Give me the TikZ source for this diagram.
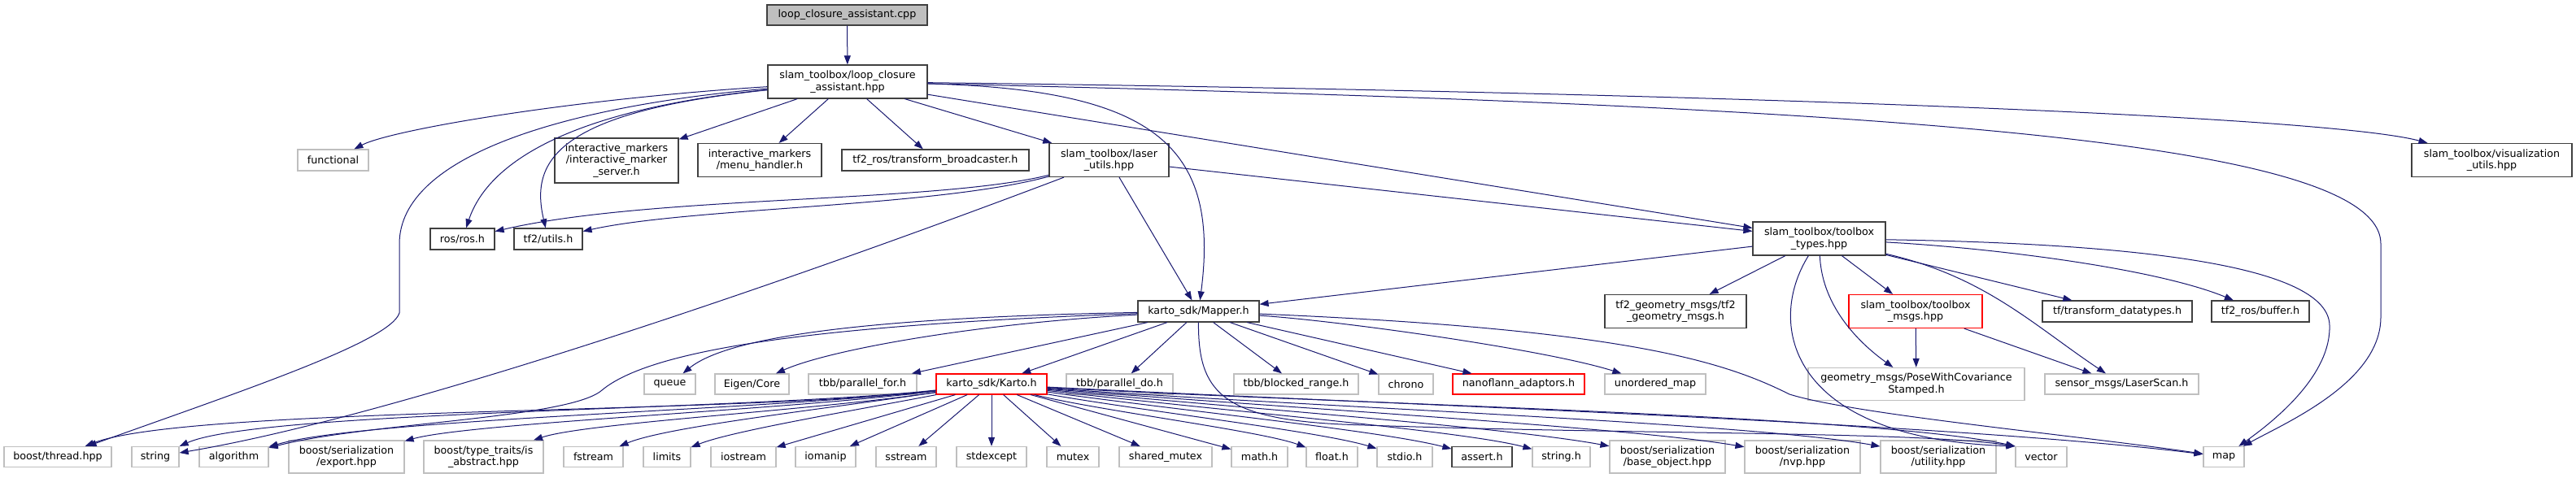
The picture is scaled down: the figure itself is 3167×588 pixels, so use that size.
\documentclass[tikz,border=0pt]{standalone}
\usepackage{fontspec}
\setmainfont{DejaVu Sans}
\usepackage{tikz}
\usetikzlibrary{arrows.meta}
\definecolor{edgeblue}{HTML}{191970}
\definecolor{grey25}{HTML}{404040}
\definecolor{grey75}{HTML}{BFBFBF}

\begin{document}
\begin{tikzpicture}[
  x=1pt, y=-1pt,
  file/.style={rectangle, line width=1.2pt, inner xsep=2pt, inner ysep=0pt, align=center, minimum height=25pt, font=\fontsize{12.7}{14.6}\selectfont},
  doc/.style={file, draw=grey25, fill=white},
  sys/.style={file, draw=grey75, fill=white},
  trunc/.style={file, draw=red, fill=white},
  root/.style={file, draw=grey25, fill=grey75},
  dep/.style={draw=edgeblue, line width=1pt, -{Triangle[length=11pt,width=8pt]}}
]
\fill[white] (0,0) rectangle (3167,588);
\useasboundingbox (0,0) rectangle (3167,588);

\node (cpp) [root, minimum width=197pt] at (1041.5,18.5) {loop\_closure\_assistant.cpp};
\node (hpp) [doc, minimum width=196pt, minimum height=41pt] at (1042,100.5) {slam\_toolbox/loop\_closure\\\_assistant.hpp};

\node (functional) [sys, minimum width=87pt, minimum height=26pt] at (409.5,197) {functional};
\node (imserver) [doc, minimum width=152pt, minimum height=55pt] at (758,197.5) {interactive\_markers\\/interactive\_marker\\\_server.h};
\node (menu) [doc, minimum width=152pt, minimum height=41pt] at (934,197) {interactive\_markers\\/menu\_handler.h};
\node (tfbroad) [doc, minimum width=230pt, minimum height=26pt] at (1150,197) {tf2\_ros/transform\_broadcaster.h};
\node (laser) [doc, minimum width=147pt, minimum height=41pt] at (1363.5,197) {slam\_toolbox/laser\\\_utils.hpp};
\node (visu) [doc, minimum width=197pt, minimum height=41pt] at (3063.5,197) {slam\_toolbox/visualization\\\_utils.hpp};

\node (ros) [doc, minimum width=79pt, minimum height=26pt] at (568.5,294) {ros/ros.h};
\node (tftwo) [doc, minimum width=84pt, minimum height=26pt] at (674,294) {tf2/utils.h};
\node (types) [doc, minimum width=163pt, minimum height=41pt] at (2236.5,293.5) {slam\_toolbox/toolbox\\\_types.hpp};

\node (mapper) [doc, minimum width=149pt, minimum height=26pt] at (1473.5,383) {karto\_sdk/Mapper.h};
\node (tfgeo) [doc, minimum width=174pt, minimum height=41pt] at (2060,383) {tf2\_geometry\_msgs/tf2\\\_geometry\_msgs.h};
\node (msgs) [trunc, minimum width=164pt, minimum height=41pt] at (2355,383) {slam\_toolbox/toolbox\\\_msgs.hpp};
\node (tfdata) [doc, minimum width=184pt, minimum height=26pt] at (2603,383) {tf/transform\_datatypes.h};
\node (buffer) [doc, minimum width=120pt, minimum height=26pt] at (2779,383) {tf2\_ros/buffer.h};

\node (queue) [sys, minimum width=63pt] at (823.5,472.5) {queue};
\node (eigen) [sys, minimum width=91pt] at (924.5,472.5) {Eigen/Core};
\node (pfor) [sys, minimum width=133pt] at (1060.5,472.5) {tbb/parallel\_for.h};
\node (karto) [trunc, minimum width=136pt] at (1219,472.5) {karto\_sdk/Karto.h};
\node (pdo) [sys, minimum width=131pt] at (1376.5,472.5) {tbb/parallel\_do.h};
\node (blocked) [sys, minimum width=153pt] at (1593.5,472.5) {tbb/blocked\_range.h};
\node (chrono) [sys, minimum width=67pt] at (1728.5,472.5) {chrono};
\node (nano) [trunc, minimum width=162pt] at (1867,472.5) {nanoflann\_adaptors.h};
\node (umap) [sys, minimum width=124pt] at (2035,472.5) {unordered\_map};
\node (pose) [sys, minimum width=266pt, minimum height=40pt] at (2356,472.5) {geometry\_msgs/PoseWithCovariance\\Stamped.h};
\node (scan) [sys, minimum width=189pt] at (2608.5,472.5) {sensor\_msgs/LaserScan.h};

\node (thread) [sys, minimum width=132pt] at (71,562) {boost/thread.hpp};
\node (string) [sys, minimum width=58pt] at (191,562) {string};
\node (algorithm) [sys, minimum width=85pt] at (287.5,562) {algorithm};
\node (export) [sys, minimum width=142pt, minimum height=40pt] at (426,562) {boost/serialization\\/export.hpp};
\node (abstract) [sys, minimum width=147pt, minimum height=40pt] at (594.5,562) {boost/type\_traits/is\\\_abstract.hpp};
\node (fstream) [sys, minimum width=73pt] at (729.5,562) {fstream};
\node (limits) [sys, minimum width=58pt] at (820,562) {limits};
\node (iostream) [sys, minimum width=80pt] at (914,562) {iostream};
\node (iomanip) [sys, minimum width=74pt] at (1015,562) {iomanip};
\node (sstream) [sys, minimum width=74pt] at (1114,562) {sstream};
\node (stdexcept) [sys, minimum width=86pt] at (1219,562) {stdexcept};
\node (mutex) [sys, minimum width=64pt] at (1319,562) {mutex};
\node (smutex) [sys, minimum width=114pt] at (1433,562) {shared\_mutex};
\node (mathh) [sys, minimum width=69pt] at (1548.5,562) {math.h};
\node (floath) [sys, minimum width=63pt] at (1637.5,562) {float.h};
\node (stdioh) [sys, minimum width=68pt] at (1727,562) {stdio.h};
\node (asserth) [doc, minimum width=74pt] at (1822,562) {assert.h};
\node (stringh) [sys, minimum width=71pt] at (1919.5,562) {string.h};
\node (baseobj) [sys, minimum width=142pt, minimum height=40pt] at (2050,562) {boost/serialization\\/base\_object.hpp};
\node (nvp) [sys, minimum width=142pt, minimum height=40pt] at (2216,562) {boost/serialization\\/nvp.hpp};
\node (utility) [sys, minimum width=142pt, minimum height=40pt] at (2383,562) {boost/serialization\\/utility.hpp};
\node (vector) [sys, minimum width=63pt] at (2509.5,562) {vector};
\node (map) [sys, minimum width=50pt] at (2734,562) {map};

\draw [dep] (cpp) -- (hpp);
\draw [dep] (hpp) .. controls (700,122) and (480,160) .. (functional);
\draw [dep] (hpp) -- (imserver);
\draw [dep] (hpp) -- (menu);
\draw [dep] (hpp) -- (tfbroad);
\draw [dep] (hpp) -- (laser);
\draw [dep] (hpp) .. controls (2000,112) and (2850,140) .. (visu);
\draw [dep] (hpp) -- (types);
\draw [dep] (hpp) .. controls (1420,110) and (1500,180) .. (mapper);
\draw [dep] (hpp) .. controls (2300,130) and (2927,170) .. (2927,300) -- (2927,390) .. controls (2927,470) and (2810,520) .. (map);
\draw [dep] (hpp) .. controls (700,135) and (600,200) .. (ros);
\draw [dep] (hpp) .. controls (680,138) and (652,200) .. (tftwo);
\draw [dep] (hpp) .. controls (700,130) and (491,190) .. (491,300) -- (491,385) .. controls (480,420) and (300,480) .. (thread);

\draw [dep] (laser) .. controls (1150,250) and (800,240) .. (ros);
\draw [dep] (laser) .. controls (1150,255) and (850,255) .. (tftwo);
\draw [dep] (laser) .. controls (1000,335) and (500,510) .. (string);
\draw [dep] (laser) -- (mapper);
\draw [dep] (laser) -- (types);

\draw [dep] (types) -- (mapper);
\draw [dep] (types) -- (tfgeo);
\draw [dep] (types) -- (msgs);
\draw [dep] (types) .. controls (2240,380) and (2290,425) .. (pose);
\draw [dep] (types) .. controls (2170,400) and (2200,540) .. (vector.north west);
\draw [dep] (types) -- (tfdata);
\draw [dep] (types) .. controls (2450,305) and (2650,330) .. (buffer);
\draw [dep] (types) .. controls (2440,340) and (2500,400) .. (scan);
\draw [dep] (types) .. controls (2650,300) and (2862,330) .. (2864,400) .. controls (2866,460) and (2800,515) .. (map);

\draw [dep] (msgs) -- (pose);
\draw [dep] (msgs) -- (scan);

\draw [dep] (mapper) .. controls (1100,390) and (900,410) .. (queue);
\draw [dep] (mapper) .. controls (1200,398) and (1020,430) .. (eigen);
\draw [dep] (mapper) -- (pfor);
\draw [dep] (mapper) -- (karto);
\draw [dep] (mapper) -- (pdo);
\draw [dep] (mapper) -- (blocked);
\draw [dep] (mapper) -- (chrono);
\draw [dep] (mapper) -- (nano);
\draw [dep] (mapper) .. controls (1650,395) and (1900,430) .. (umap);
\draw [dep] (mapper) .. controls (2000,405) and (2120,445) .. (2200,485) .. controls (2280,510) and (2550,535) .. (map);
\draw [dep] (mapper) .. controls (1473,480) and (1500,515) .. (1650,522) .. controls (2000,535) and (2350,530) .. (vector.north west);
\draw [dep] (mapper) .. controls (1000,400) and (800,430) .. (740,480) .. controls (700,515) and (450,520) .. (algorithm);

\draw [dep] (karto) .. controls (900,510) and (230,500) .. (thread);
\draw [dep] (karto) .. controls (920,505) and (320,505) .. (string);
\draw [dep] (karto) .. controls (940,505) and (450,515) .. (algorithm);
\draw [dep] (karto) .. controls (960,505) and (580,520) .. (export);
\draw [dep] (karto) .. controls (1000,505) and (720,520) .. (abstract);
\draw [dep] (karto) .. controls (1000,505) and (820,525) .. (fstream);
\draw [dep] (karto) .. controls (1050,505) and (900,530) .. (limits);
\draw [dep] (karto) -- (iostream);
\draw [dep] (karto) -- (iomanip);
\draw [dep] (karto) -- (sstream);
\draw [dep] (karto) -- (stdexcept);
\draw [dep] (karto) -- (mutex);
\draw [dep] (karto) -- (smutex);
\draw [dep] (karto) -- (mathh);
\draw [dep] (karto) .. controls (1350,505) and (1550,530) .. (floath);
\draw [dep] (karto) .. controls (1400,505) and (1620,530) .. (stdioh);
\draw [dep] (karto) .. controls (1450,505) and (1700,530) .. (asserth);
\draw [dep] (karto) .. controls (1500,505) and (1800,530) .. (stringh);
\draw [dep] (karto) .. controls (1500,500) and (1850,525) .. (baseobj);
\draw [dep] (karto) .. controls (1550,500) and (2000,525) .. (nvp);
\draw [dep] (karto) .. controls (1600,500) and (2150,520) .. (utility);
\draw [dep] (karto) .. controls (1600,495) and (2300,510) .. (vector.north west);
\draw [dep] (karto) .. controls (1650,495) and (2400,520) .. (map);

\end{tikzpicture}
\end{document}
